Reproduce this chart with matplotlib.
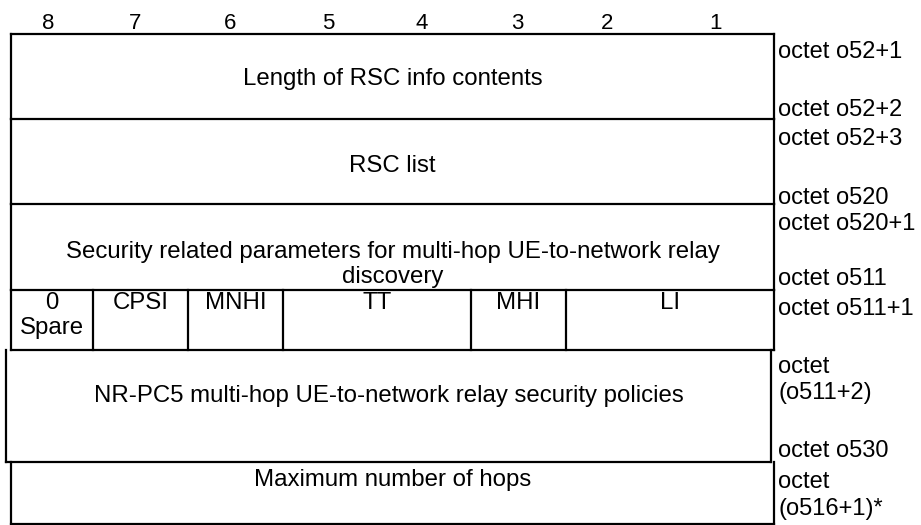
import matplotlib
matplotlib.use("Agg")
import matplotlib.pyplot as plt

plt.rcParams['font.family'] = ['Liberation Sans', 'DejaVu Sans']

# ---- content ----
bit_labels = ["8", "7", "6", "5", "4", "3", "2", "1"]
bit_x = [48, 135, 230, 328, 422, 517, 607, 715]

# (text, baseline y)
row_lines = [
    ("Length of RSC info contents", 85),
    ("RSC list", 172),
    ("Security related parameters for multi-hop UE-to-network relay", 258),
    ("discovery", 283),
    ("Maximum number of hops", 486),
]
row5_text = ("NR-PC5 multi-hop UE-to-network relay security policies", 402)

field_names = [["0", "Spare"], ["CPSI"], ["MNHI"], ["TT"], ["MHI"], ["LI"]]
field_baselines = [309, 334]

octet_labels = [
    ("octet o52+1", 58), ("octet o52+2", 116), ("octet o52+3", 145),
    ("octet o520", 204), ("octet o520+1", 230), ("octet o511", 285),
    ("octet o511+1", 315), ("octet", 373), ("(o511+2)", 399),
    ("octet o530", 457), ("octet", 488), ("(o516+1)*", 515),
]

# ---- layout ----
W, H = 921, 525
fig = plt.figure(figsize=(W / 100, H / 100), dpi=100)
ax = fig.add_axes([0, 0, 1, 1])
ax.set_xlim(0, W)
ax.set_ylim(H, 0)
ax.axis('off')

lw = 1.6
kw = dict(color='black', lw=lw, solid_capstyle='projecting')
FS = 17.3
FS_OCT = 17
FS_BITS = 16

def hline(y, x0, x1):
    ax.plot([x0, x1], [y, y], **kw)

def vline(x, y0, y1):
    ax.plot([x, x], [y0, y1], **kw)

L, R = 11, 774
rows = [(34, 119), (119, 204), (204, 290), (290, 350)]
hline(34, L, R)
for (y0, y1) in rows:
    vline(L, y0, y1)
    vline(R, y0, y1)
    hline(y1, L, R)

# row 5 (slightly shifted box)
L5, R5 = 6, 771
vline(L5, 350, 462)
vline(R5, 350, 462)
hline(462, L5, R5)
# row 6
vline(L, 462, 523.5)
vline(R, 462, 523.5)
hline(523.5, L, R)

# row 4 field dividers
field_edges = [11, 93, 188, 283, 471, 566, 774]
for x in field_edges[1:-1]:
    vline(x, 290, 350)

# header bit numbers
for lab, x in zip(bit_labels, bit_x):
    ax.text(x, 29, lab, ha='center', va='baseline', fontsize=FS_BITS)

cx = (L + R) / 2
for txt, yb in row_lines:
    ax.text(cx, yb, txt, ha='center', va='baseline', fontsize=FS)
ax.text((L5 + R5) / 2, row5_text[1], row5_text[0], ha='center',
        va='baseline', fontsize=FS)

for i, lines in enumerate(field_names):
    xc = (field_edges[i] + field_edges[i + 1]) / 2
    for ln, yb in zip(lines, field_baselines):
        ax.text(xc, yb, ln, ha='center', va='baseline', fontsize=FS)

for lab, yb in octet_labels:
    ax.text(778, yb, lab, ha='left', va='baseline', fontsize=FS_OCT)

fig.savefig("out.png", dpi=100)
